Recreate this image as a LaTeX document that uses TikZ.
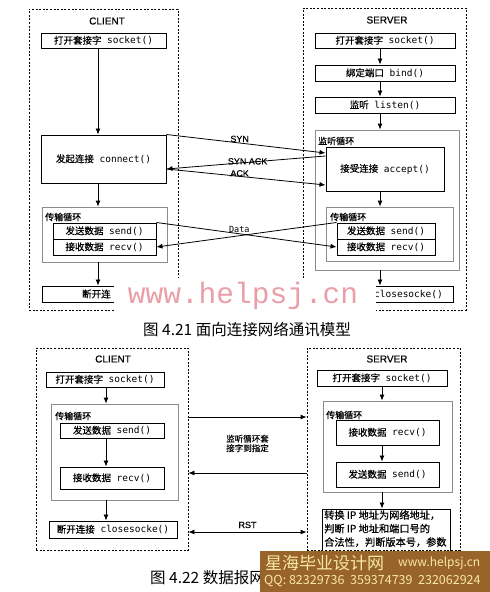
\documentclass[tikz,border=0pt]{standalone}
\usepackage{fontspec}
\setmainfont{DejaVu Sans Mono}
\newfontfamily\cjk{Noto Sans CJK SC}
\newfontfamily\cjkb[FakeBold=0.6]{Noto Sans CJK SC}
\newfontfamily\lab[FakeBold=0.5]{Liberation Sans}
\newfontfamily\wmfont{Liberation Mono}
\usetikzlibrary{arrows.meta}
\newcommand\bt[2]{{\cjkb #1} #2}
\definecolor{wmpink}{RGB}{234,158,168}
\definecolor{banner}{RGB}{152,100,42}
\definecolor{bantext}{RGB}{248,232,165}
\begin{document}
\begin{tikzpicture}[x=1pt,y=-1pt,
  font=\fontsize{9.5}{11}\selectfont,
  dbox/.style={draw, line width=0.8pt, dash pattern=on 2pt off 1.6pt, inner sep=0pt},
  fbox/.style={draw, line width=1pt, inner sep=0pt, align=center},
  gbox/.style={draw=black!45, line width=0.8pt, inner sep=0pt},
  arr/.style={-{Latex[length=6pt,width=5pt]}, line width=0.8pt},
  darr/.style={{Latex[length=6pt,width=5pt]}-{Latex[length=6pt,width=5pt]}, line width=0.8pt},
  ttl/.style={font=\lab\fontsize{10}{12}\selectfont},
  sig/.style={font=\lab\fontsize{9}{10}\selectfont, inner sep=0.5pt},
  loopl/.style={font=\cjkb\fontsize{9}{10}\selectfont, anchor=west, inner sep=0pt},
]
\fill[white] (0,0) rectangle (490,592);
\useasboundingbox (0,0) rectangle (490,592);

% ---------------- top: client
\node[dbox, minimum width=149pt, minimum height=301pt] (cd) at (103.5,159.5) {};
\node[ttl] (ct) at (107,21) {CLIENT};
\node[fbox, minimum width=125pt, minimum height=15pt] (cs) at (103.5,40.5) {\bt{打开套接字}{socket()}};
\node[fbox, minimum width=125pt, minimum height=48pt] (cc) at (103.5,159) {\bt{发起连接}{connect()}};
\node[gbox, minimum width=125pt, minimum height=55pt] (cl) at (104.5,234.5) {};
\node[loopl] (cll) at (45,217) {传输循环};
\node[fbox, minimum width=103pt, minimum height=16pt] (csd) at (104.5,231) {\bt{发送数据}{send()}};
\node[fbox, minimum width=103pt, minimum height=16pt] (crv) at (104.5,247) {\bt{接收数据}{recv()}};
\node[fbox, minimum width=125pt, minimum height=16pt] (ccl) at (104.5,294) {};
\node[anchor=west, inner sep=0pt, font=\cjkb\fontsize{9.5}{11}\selectfont] (cclt) at (82,294) {断开连};

% ---------------- top: server
\node[dbox, minimum width=163pt, minimum height=302pt] (sd) at (384.5,159) {};
\node[ttl] (st) at (387,20) {SERVER};
\node[fbox, minimum width=140pt, minimum height=15pt] (ss) at (385,40.5) {\bt{打开套接字}{socket()}};
\node[fbox, minimum width=140pt, minimum height=16pt] (sb) at (385,73) {\bt{绑定端口}{bind()}};
\node[fbox, minimum width=140pt, minimum height=16pt] (sl) at (385,105) {\bt{监听}{listen()}};
\node[gbox, minimum width=144pt, minimum height=140pt] (sll) at (387,200) {};
\node[loopl] (slll) at (318,141) {监听循环};
\node[fbox, minimum width=118pt, minimum height=44pt] (sa) at (385,169) {\bt{接受连接}{accept()}};
\node[gbox, minimum width=127pt, minimum height=54pt] (stl) at (389.5,234) {};
\node[loopl] (stll) at (330,217) {传输循环};
\node[fbox, minimum width=98pt, minimum height=16pt] (ssd) at (386,231) {\bt{发送数据}{send()}};
\node[fbox, minimum width=98pt, minimum height=16pt] (srv) at (386,247) {\bt{接收数据}{recv()}};
\node[fbox, minimum width=127pt, minimum height=16pt] (scl) at (389.5,294) {};
\node[anchor=east, inner sep=0pt] (sclt) at (443,294) {closesocke()};

% vertical arrows top
\coordinate (cx) at (98,0);
\coordinate (sx) at (380,0);
\draw[arr] (cs.south -| cx) -- (cc.north -| cx);
\draw[arr] (cc.south -| cx) -- (cl.north -| cx);
\draw[arr] (cl.south -| cx) -- (ccl.north -| cx);
\draw[arr] (ss.south -| sx) -- (sb.north -| sx);
\draw[arr] (sb.south -| sx) -- (sl.north -| sx);
\draw[arr] (sl.south -| sx) -- (sll.north -| sx);
\draw[arr] (sa.south -| sx) -- (stl.north -| sx);
\draw[arr] (sll.south -| sx) -- (scl.north -| sx);

% signals
\draw[arr] (cc.north east) -- node[sig, pos=0.46, above] {SYN} ([yshift=16pt]sa.west);
\draw[arr] ([yshift=13pt]sa.west) -- node[sig, pos=0.49, yshift=1pt] {SYN ACK} ([yshift=-10pt]cc.east);
\draw[arr] ([yshift=-10pt]cc.east) -- node[sig, pos=0.46, yshift=3pt] {ACK} ([yshift=-16pt]sa.west);
\draw[arr] (csd.north east) -- node[pos=0.46, above, font=\fontsize{8.5}{10}\selectfont, inner sep=0.5pt] {Data} (srv.west);
\draw[arr] (ssd.north west) -- (crv.east);

% ---------------- bottom: client
\node[dbox, minimum width=152pt, minimum height=202pt] (cd2) at (112,449) {};
\node[ttl] (ct2) at (113,359) {CLIENT};
\node[fbox, minimum width=118pt, minimum height=15pt] (cs2) at (105,379.5) {\bt{打开套接字}{socket()}};
\node[gbox, minimum width=127pt, minimum height=96pt] (cl2) at (114.5,452) {};
\node[loopl] (cl2l) at (55,416) {传输循环};
\node[fbox, minimum width=104pt, minimum height=15pt] (csd2) at (112,430.5) {\bt{发送数据}{send()}};
\node[fbox, minimum width=104pt, minimum height=22pt] (crv2) at (112,478) {\bt{接收数据}{recv()}};
\node[fbox, minimum width=128pt, minimum height=17pt] (ccl2) at (113,529.5) {\bt{断开连接}{closesocke()}};
\coordinate (cx2) at (106,0);
\draw[arr] (cs2.south -| cx2) -- (cl2.north -| cx2);
\draw[arr] (csd2.south -| cx2) -- (crv2.north -| cx2);
\draw[arr] (cl2.south -| cx2) -- (ccl2.north -| cx2);

% ---------------- bottom: server
\node[dbox, minimum width=153pt, minimum height=202pt] (sd2) at (383.5,449) {};
\node[ttl] (st2) at (387,359) {SERVER};
\node[fbox, minimum width=130pt, minimum height=16pt] (ss2) at (382,378) {\bt{打开套接字}{socket()}};
\node[gbox, minimum width=129pt, minimum height=91pt] (sl2) at (387.5,446.5) {};
\node[loopl] (sl2l) at (326,415) {传输循环};
\node[fbox, minimum width=103pt, minimum height=25pt] (srv2) at (387.5,432.5) {\bt{接收数据}{recv()}};
\node[fbox, minimum width=103pt, minimum height=25pt] (ssd2) at (387.5,474.5) {\bt{发送数据}{send()}};
\node[fbox, minimum width=128pt, minimum height=47pt] (scv) at (386,532.5) {};
\node[anchor=north west, align=left, font=\cjkb\fontsize{10.2}{13.5}\selectfont, inner sep=0pt] (scvt) at (324,510) {转换 IP 地址为网络地址，\\判断 IP 地址和端口号的\\合法性，判断版本号，参数};
\coordinate (sx2) at (382,0);
\draw[arr] (ss2.south -| sx2) -- (sl2.north -| sx2);
\draw[arr] (srv2.south -| sx2) -- (ssd2.north -| sx2);
\draw[arr] (sl2.south -| sx2) -- (scv.north -| sx2);

% bottom horizontal arrows
\draw[arr] ([yshift=32pt]cd2.east) -- ([yshift=32pt]sd2.west);
\draw[arr] ([yshift=-24pt]sd2.west) -- node[above=20pt, font=\cjkb\fontsize{8.5}{9.5}\selectfont, align=center, inner sep=0.5pt] {监听循环套\\接字到指定} ([yshift=-24pt]cd2.east);
\draw[darr] ([yshift=-83pt]cd2.east) -- node[sig, above=3pt] {RST} ([yshift=-83pt]sd2.west);

% captions
\node[font=\cjk\fontsize{15.5}{18}\selectfont, anchor=west, inner sep=0pt] (cap1) at (143,330) {图 4.21 面向连接网络通讯模型};
\node[font=\cjk\fontsize{15.5}{18}\selectfont, anchor=west, inner sep=0pt] (cap2) at (150,578) {图 4.22 数据报网};

% watermark
\fill[white] (114,278) rectangle (376,313);
\node[font=\wmfont\fontsize{29.5}{30}\selectfont, text=wmpink, anchor=base, inner sep=0pt] (wm) at (243,303) {www.helpsj.cn};

% banner
\fill[banner] (260,551) rectangle (490,592);
\node[font=\cjk\fontsize{17}{18}\selectfont, text=bantext, anchor=west, inner sep=0pt] (b1) at (265,563) {星海毕业设计网};
\node[font=\cjk\fontsize{12}{13}\selectfont, text=bantext, anchor=west, inner sep=0pt] (b2) at (398,563) {www.helpsj.cn};
\node[font=\cjk\fontsize{12.5}{13}\selectfont, text=bantext, anchor=west, inner sep=0pt] (b3) at (264,580.5) {QQ: 82329736\ \ 359374739\ \ 232062924};
\end{tikzpicture}
\end{document}
